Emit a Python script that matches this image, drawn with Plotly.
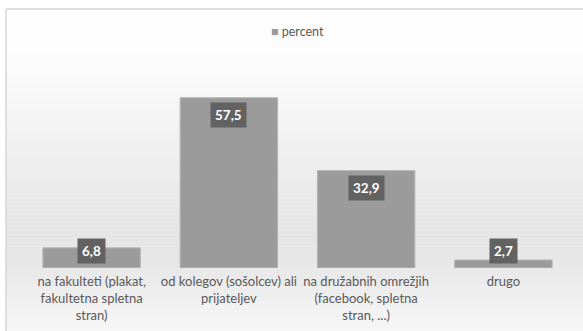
import plotly.graph_objects as go

categories = [
    "na fakulteti (plakat,<br>fakultetna spletna<br>stran)",
    "od kolegov (sošolcev) ali<br>prijateljev",
    "na družabnih omrežjih<br>(facebook, spletna<br>stran, ...)",
    "drugo",
]
percent = [6.8, 57.5, 32.9, 2.7]
value_labels = ["6,8", "57,5", "32,9", "2,7"]
series_name = "percent"

W, H = 583, 331
M_L, M_R, M_T, M_B = 23, 11, 75, 63
Y_MAX = 65.2
plot_h = H - M_T - M_B
units_per_px = Y_MAX / plot_h

FONT = "Lato, 'Open Sans', sans-serif"
TEXT_GRAY = "#595959"
BAR_GRAY = "#9b9b9b"

fig = go.Figure()
fig.add_trace(go.Bar(
    x=list(range(len(categories))),
    y=percent,
    name=series_name,
    width=0.71,
    marker=dict(color=BAR_GRAY, line=dict(color="#b4b4b4", width=1)),
    showlegend=False,
))


def px_to_paper_y(py):
    return (H - M_B - py) / plot_h


def px_to_paper_x(px):
    return (px - M_L) / (W - M_L - M_R)


# value labels in dark boxes at the inner end of each bar
box_h_units = 30 * units_per_px
annotations = []
for i, (v, t) in enumerate(zip(percent, value_labels)):
    inside = v >= box_h_units
    annotations.append(dict(x=i, y=v if inside else 0, xref="x", yref="y", text=f"<b>{t}</b>",
                            yanchor="top" if inside else "bottom", yshift=-4 if inside else 4,
                            showarrow=False, bgcolor="#626262", borderpad=4,
                            font=dict(family=FONT, size=13.5, color="white")))

# legend entry at the top centre
annotations.append(dict(x=0.5, y=px_to_paper_y(31), xref="paper", yref="paper",
                        text=f"<span style='color:{BAR_GRAY}'>■</span> {series_name}",
                        showarrow=False, xanchor="center", yanchor="middle",
                        font=dict(family=FONT, size=12.5, color=TEXT_GRAY)))

# chart-area background: vertical gradient inside a thin frame (top and left edges)
stops = [(9, 255), (60, 252), (120, 244), (180, 236), (235, 229), (270, 232), (300, 240), (331, 246)]
shapes = []
n = 80
top, bot = 9, 331
for k in range(n):
    y0 = top + (bot - top) * k / n
    y1 = top + (bot - top) * (k + 1) / n
    ym = (y0 + y1) / 2
    c = stops[-1][1]
    for (a, ca), (b, cb) in zip(stops[:-1], stops[1:]):
        if a <= ym <= b:
            c = ca + (cb - ca) * (ym - a) / (b - a)
            break
    c = int(round(c))
    shapes.append(dict(type="rect", xref="paper", yref="paper", layer="below",
                       x0=px_to_paper_x(6), x1=px_to_paper_x(W + 60),
                       y0=px_to_paper_y(y1) - 0.002, y1=px_to_paper_y(y0),
                       fillcolor=f"rgb({c},{c},{c})", line=dict(width=0)))
frame = dict(color="#d6d6d6", width=1.5)
shapes.append(dict(type="line", xref="paper", yref="paper", layer="below",
                   x0=px_to_paper_x(6), x1=px_to_paper_x(W + 60),
                   y0=px_to_paper_y(9), y1=px_to_paper_y(9), line=frame))
shapes.append(dict(type="line", xref="paper", yref="paper", layer="below",
                   x0=px_to_paper_x(6), x1=px_to_paper_x(6),
                   y0=px_to_paper_y(H + 60), y1=px_to_paper_y(9), line=frame))

fig.update_layout(
    width=W, height=H,
    margin=dict(l=M_L, r=M_R, t=M_T, b=M_B, autoexpand=False),
    paper_bgcolor="white",
    plot_bgcolor="rgba(0,0,0,0)",
    font=dict(family=FONT, color=TEXT_GRAY),
    showlegend=False,
    xaxis=dict(tickmode="array", tickvals=list(range(len(categories))), ticktext=categories,
               range=[-0.5, len(categories) - 0.5], showgrid=False, zeroline=False,
               showline=False, ticks="", ticklabelstandoff=4, automargin=False,
               tickfont=dict(family=FONT, size=13, color=TEXT_GRAY),
               fixedrange=True),
    yaxis=dict(range=[0, Y_MAX], visible=False, fixedrange=True, automargin=False),
    annotations=annotations,
    shapes=shapes,
)

fig.write_html("out.html")
